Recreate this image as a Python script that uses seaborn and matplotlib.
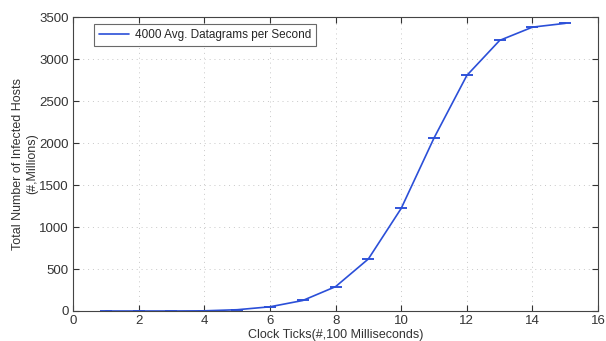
import matplotlib
matplotlib.use("Agg")
import matplotlib.pyplot as plt
import seaborn as sns
import pandas as pd
import numpy as np

ticks = [1, 2, 3, 4, 5, 6, 7, 8, 9, 10, 11, 12, 13, 14, 15]
infected = [0, 0, 0, 2, 15, 50, 125, 290, 620, 1222, 2060, 2805, 3222, 3380, 3425]
errs = [0, 0, 0, 0, 0, 0, 0, 0, 0, 0, 0, 0, 0, 0, 0]
series_label = "4000 Avg. Datagrams per Second"

sns.set_theme(style="white")
plt.rcParams['font.family'] = ['Liberation Sans', 'DejaVu Sans']

df = pd.DataFrame({"x": ticks, "y": infected})
fig = plt.figure(figsize=(6.06, 3.41), dpi=100)
ax = fig.add_axes([0.1205, 0.088, 0.8665, 0.862])
color = "#2b4fd8"
sns.lineplot(data=df, x="x", y="y", ax=ax, color=color, linewidth=1.2, label=series_label)
ax.errorbar(ticks, infected, yerr=errs, fmt='none', ecolor=color, capsize=4.5, capthick=1.1, elinewidth=1.0)

ax.set_xlim(0, 16)
ax.set_ylim(0, 3500)
ax.set_xticks(range(0, 17, 2))
ax.set_yticks(range(0, 3501, 500))
ax.grid(True, linestyle=(0, (1, 4)), color="#c8c8c8", linewidth=0.7)
ax.tick_params(direction="in", length=4, labelsize=9.5, colors="#333333", top=True, right=True, bottom=True, left=True, width=0.8, pad=3)
for s in ax.spines.values():
    s.set_color("#444444")
    s.set_linewidth(0.8)
ax.set_xlabel("Clock Ticks(#,100 Milliseconds)", fontsize=9, color="#333333", labelpad=1)
ax.set_ylabel("Total Number of Infected Hosts\n(#,Millions)", fontsize=9, color="#333333", labelpad=1)
leg = ax.legend(loc="upper left", fontsize=8.5, frameon=True, fancybox=False, edgecolor="#444444",
                bbox_to_anchor=(0.04, 0.975), handlelength=2.6, handletextpad=0.5, borderpad=0.4,
                borderaxespad=0.0)
leg.get_frame().set_linewidth(0.8)
fig.savefig("out.png", dpi=100)
